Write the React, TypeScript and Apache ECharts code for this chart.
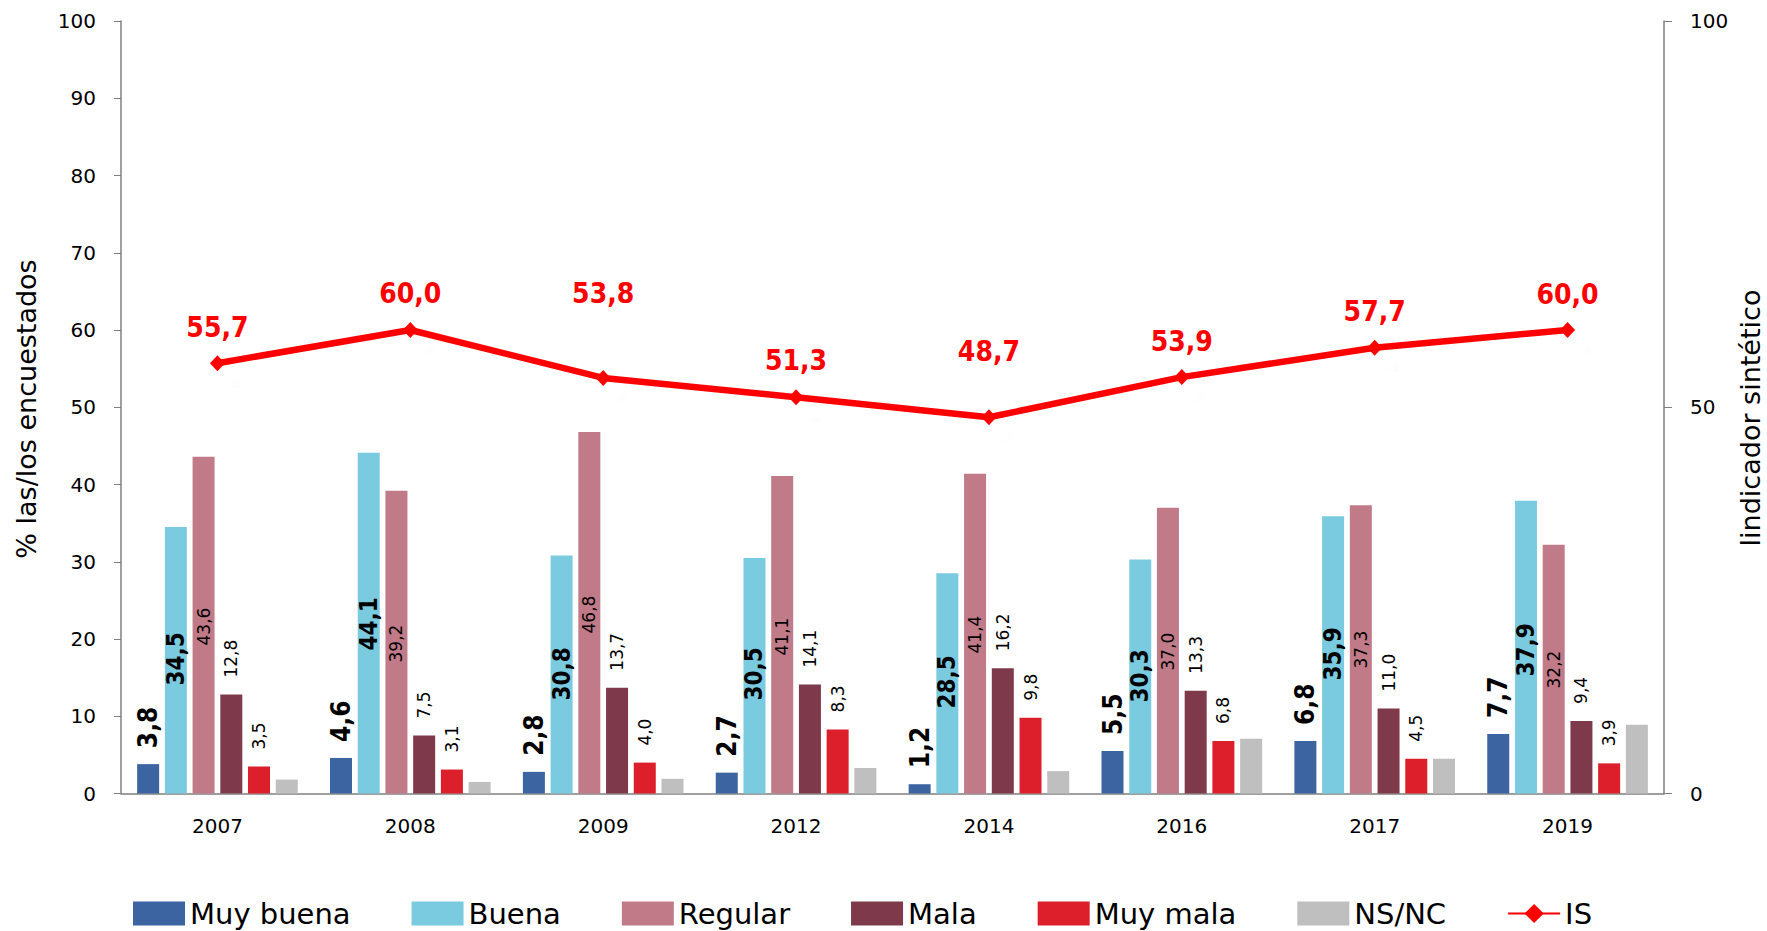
import React, { useEffect, useRef } from "react";
import * as echarts from "echarts";

const years = ["2007", "2008", "2009", "2012", "2014", "2016", "2017", "2019"];
const muyBuena = [3.8, 4.6, 2.8, 2.7, 1.2, 5.5, 6.8, 7.7];
const buena = [34.5, 44.1, 30.8, 30.5, 28.5, 30.3, 35.9, 37.9];
const regular = [43.6, 39.2, 46.8, 41.1, 41.4, 37.0, 37.3, 32.2];
const mala = [12.8, 7.5, 13.7, 14.1, 16.2, 13.3, 11.0, 9.4];
const muyMala = [3.5, 3.1, 4.0, 8.3, 9.8, 6.8, 4.5, 3.9];
const nsnc = [1.8, 1.5, 1.9, 3.3, 2.9, 7.1, 4.5, 8.9];
const indicador = [55.7, 60.0, 53.8, 51.3, 48.7, 53.9, 57.7, 60.0];

const leftTicks = { min: 0, max: 100, interval: 10 };
const rightTicks = { min: 0, max: 100, interval: 50 };

// label placement (pixels), styling only
const buenaLabelLift = [108, 143, 93, 93, 85, 91, 113, 117];
const regularLabelLift = [148, 131, 160, 138, 140, 123, 125, 105];
const isLabelGap = [14, 15, 62, 15, 44, 14, 14, 14];

const FONT = "DejaVu Sans";
const FONT_C = "'DejaVu Sans Condensed', 'DejaVu Sans'";

const fmt = (p: any) => {
  const v = typeof p.value === "number" ? p.value : p.value?.value ?? p.data?.value;
  return Number(v).toFixed(1).replace(".", ",");
};

export default function App() {
  const ref = useRef<HTMLDivElement>(null);
  useEffect(() => {
    if (!ref.current) return;
    const chart = echarts.init(ref.current, null, { renderer: "svg" });

    const topLabel = (size: number, bold: boolean) => ({
      show: true,
      position: "top",
      distance: 16,
      rotate: 90,
      align: "left",
      verticalAlign: "middle",
      fontFamily: bold ? FONT_C : FONT,
      fontWeight: bold ? "bold" : "normal",
      fontSize: size,
      color: "#000",
      formatter: fmt,
    });

    const barBase = (name: string, color: string) => ({
      name,
      type: "bar",
      barWidth: 22,
      barGap: "26%",
      itemStyle: { color },
      emphasis: { disabled: true },
    });

    const option: any = {
      animation: false,
      backgroundColor: "#ffffff",
      grid: { left: 121, right: 103, top: 21, bottom: 137.5, containLabel: false },
      legend: {
        left: 133,
        top: 899,
        padding: 0,
        itemWidth: 52,
        itemHeight: 24,
        itemGap: 61,
        textStyle: { fontFamily: FONT, fontSize: 29, color: "#000" },
        data: [
          { name: "Muy buena", icon: "rect" },
          { name: "Buena", icon: "rect" },
          { name: "Regular", icon: "rect" },
          { name: "Mala", icon: "rect" },
          { name: "Muy mala", icon: "rect" },
          { name: "NS/NC", icon: "rect" },
          { name: "IS" },
        ],
      },
      xAxis: {
        type: "category",
        data: years,
        axisLine: { lineStyle: { color: "#7f7f7f", width: 1.5 } },
        axisTick: { show: false },
        axisLabel: { fontFamily: FONT, fontSize: 20, color: "#000", margin: 22 },
      },
      yAxis: [
        {
          type: "value",
          ...leftTicks,
          position: "left",
          axisLine: { show: true, lineStyle: { color: "#7f7f7f", width: 1.5 } },
          axisTick: { show: true, length: 7, lineStyle: { color: "#7f7f7f" } },
          splitLine: { show: false },
          axisLabel: { fontFamily: FONT, fontSize: 20, color: "#000", margin: 25 },
        },
        {
          type: "value",
          ...rightTicks,
          position: "right",
          axisLine: { show: true, lineStyle: { color: "#7f7f7f", width: 1.5 } },
          axisTick: { show: true, length: 8, lineStyle: { color: "#7f7f7f" } },
          splitLine: { show: false },
          axisLabel: { fontFamily: FONT, fontSize: 20, color: "#000", margin: 26 },
        },
      ],
      graphic: [
        {
          type: "text",
          x: 26,
          y: 409,
          rotation: Math.PI / 2,
          style: {
            text: "% las/los encuestados",
            fontFamily: FONT,
            fontSize: 27,
            fill: "#000",
            textAlign: "center",
            textVerticalAlign: "middle",
          },
        },
        {
          type: "text",
          x: 1750,
          y: 418,
          rotation: Math.PI / 2,
          style: {
            text: "lindicador sintético",
            fontFamily: FONT,
            fontSize: 27,
            fill: "#000",
            textAlign: "center",
            textVerticalAlign: "middle",
          },
        },
      ],
      series: [
        {
          ...barBase("Muy buena", "#3B64A0"),
          data: muyBuena,
          label: { ...topLabel(26, true) },
        },
        {
          ...barBase("Buena", "#7BCBE0"),
          data: buena.map((v, i) => ({ value: v, label: { distance: buenaLabelLift[i] } })),
          label: {
            show: true,
            position: "insideBottom",
            rotate: 90,
            align: "left",
            verticalAlign: "middle",
            fontFamily: FONT_C,
            fontWeight: "bold",
            fontSize: 24,
            color: "#000",
            formatter: fmt,
          },
        },
        {
          ...barBase("Regular", "#C07A88"),
          data: regular.map((v, i) => ({ value: v, label: { distance: regularLabelLift[i] } })),
          label: {
            show: true,
            position: "insideBottom",
            rotate: 90,
            align: "left",
            verticalAlign: "middle",
            fontFamily: FONT,
            fontSize: 17,
            color: "#000",
            formatter: fmt,
          },
        },
        {
          ...barBase("Mala", "#7E3A4A"),
          data: mala,
          label: { ...topLabel(17, false), distance: 17 },
        },
        {
          ...barBase("Muy mala", "#DC1F2A"),
          data: muyMala,
          label: { ...topLabel(17, false), distance: 17 },
        },
        {
          ...barBase("NS/NC", "#BFBFBF"),
          data: nsnc,
        },
        {
          name: "IS",
          type: "line",
          yAxisIndex: 1,
          data: indicador.map((v, i) => ({ value: v, label: { distance: isLabelGap[i] } })),
          symbol: "diamond",
          symbolSize: [15, 16],
          lineStyle: { color: "#FF0000", width: 6.5 },
          itemStyle: {
            color: "#FF0000",
            shadowColor: "rgba(0,0,0,0.22)",
            shadowBlur: 22,
            shadowOffsetX: 35,
            shadowOffsetY: 37,
          },
          label: {
            show: true,
            position: "top",
            fontFamily: FONT_C,
            fontWeight: "bold",
            fontSize: 28,
            color: "#FF0000",
            formatter: fmt,
          },
          emphasis: { disabled: true },
          z: 5,
        },
      ],
    };

    chart.setOption(option);
    return () => chart.dispose();
  }, []);

  return (
    <div
      ref={ref}
      style={{ position: "absolute", left: 0, top: 0, width: 1767, height: 931 }}
    />
  );
}
